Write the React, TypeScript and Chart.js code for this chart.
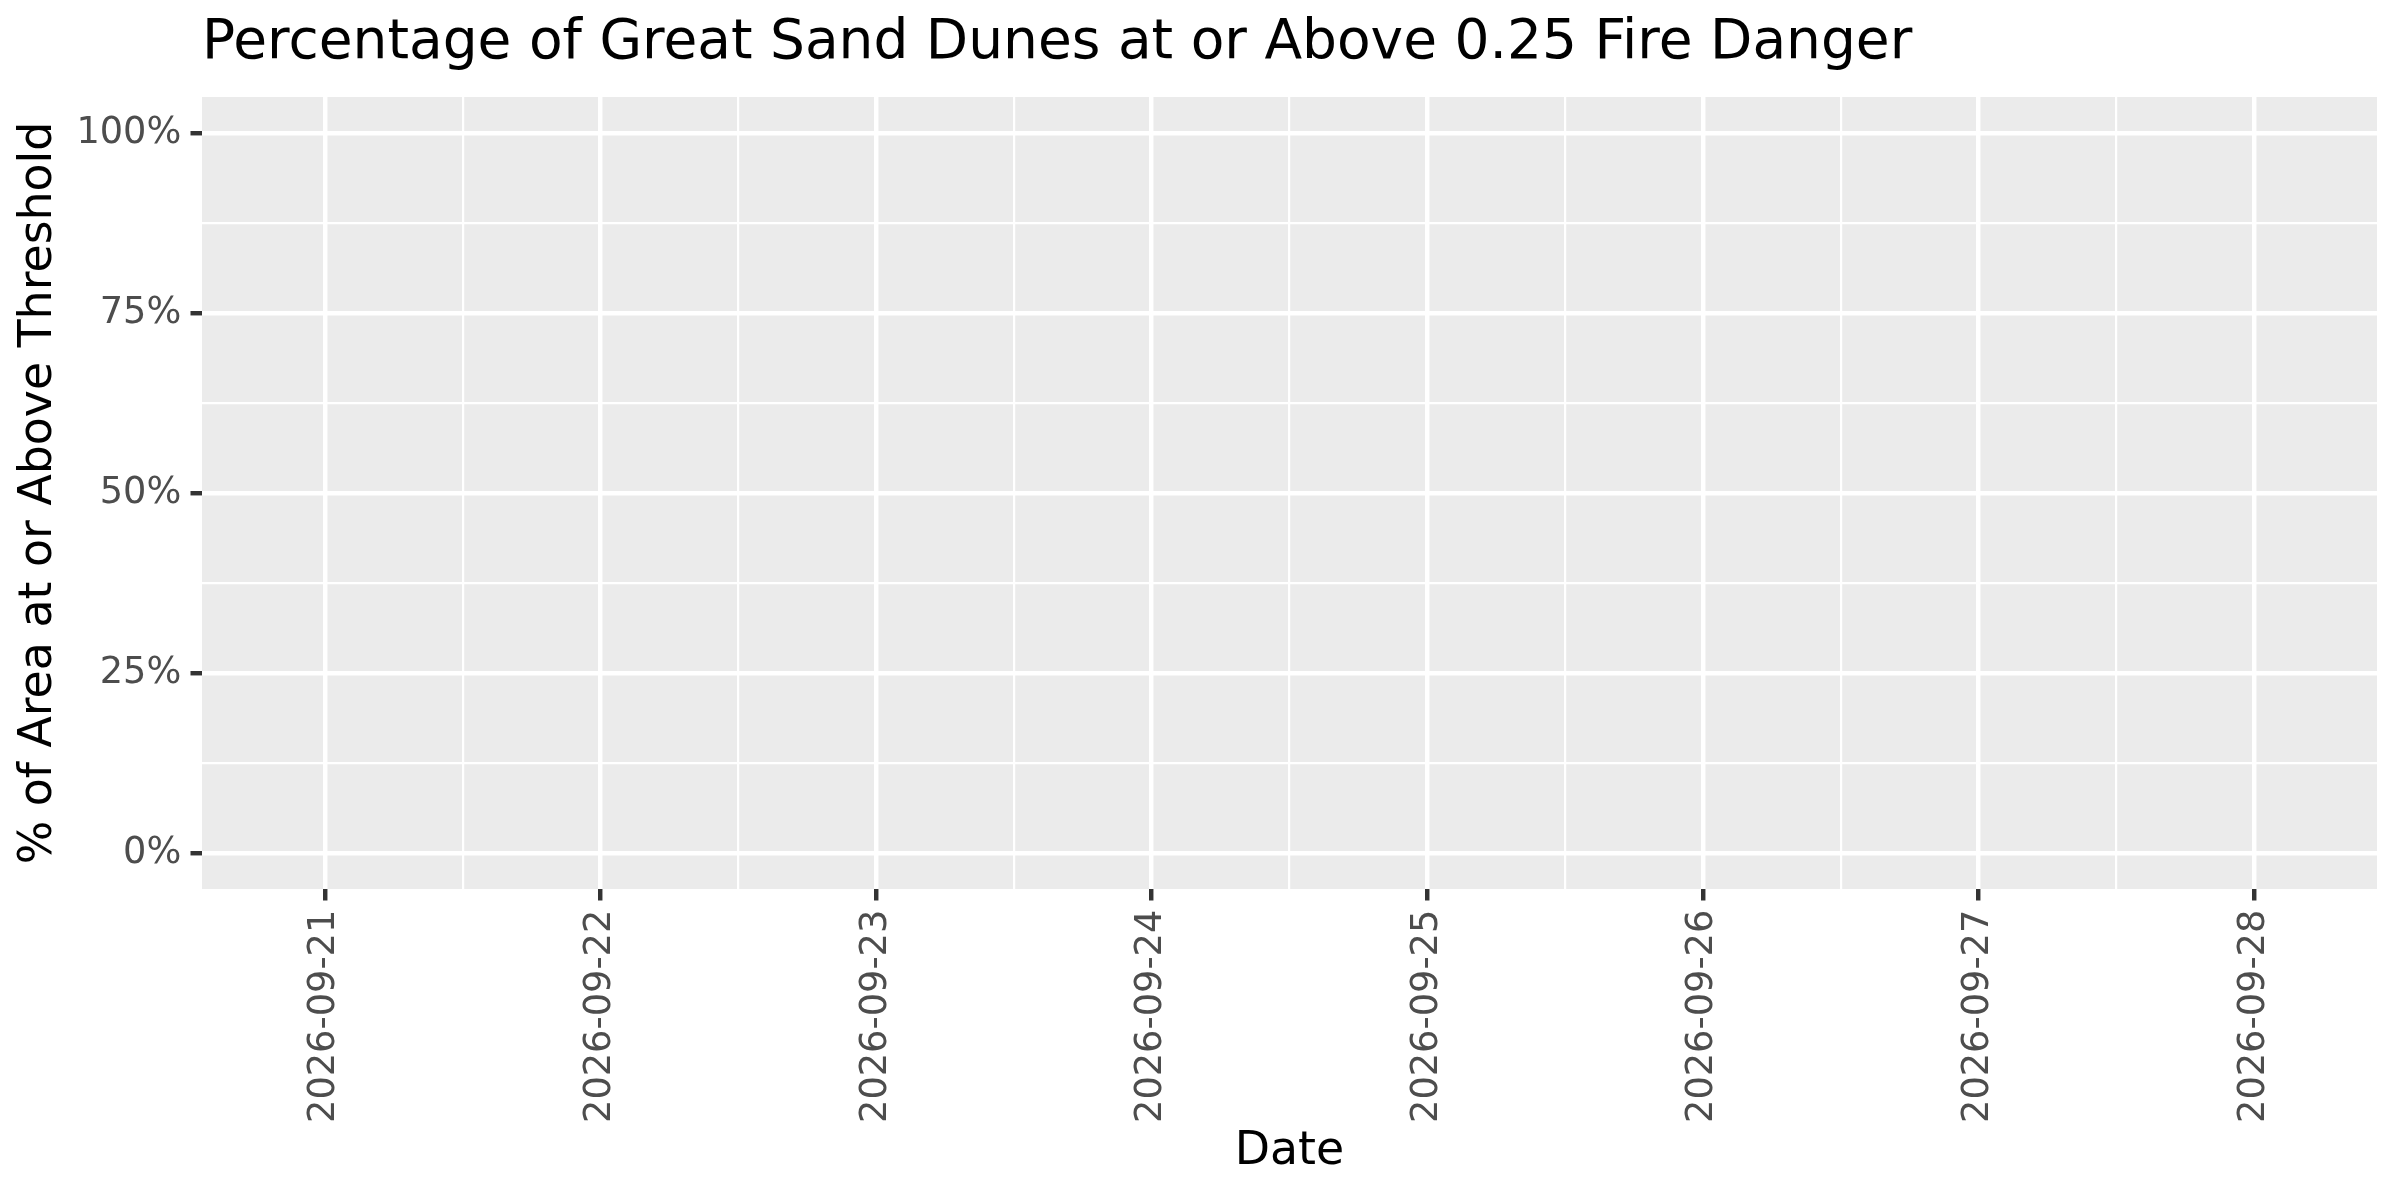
import React, { useEffect, useRef } from 'react';
import { Chart, registerables } from 'chart.js';

Chart.register(...registerables);

const CHART_TITLE = 'Percentage of Great Sand Dunes at or Above 0.25 Fire Danger';
const X_TITLE = 'Date';
const Y_TITLE = '% of Area at or Above Threshold';

const dates = ['2026-09-21', '2026-09-22', '2026-09-23', '2026-09-24', '2026-09-25', '2026-09-26', '2026-09-27', '2026-09-28'];
// the panel is empty in the source: no day has a value
const percentAbove: (number | null)[] = [null, null, null, null, null, null, null, null];

const yBreaks = [0, 25, 50, 75, 100];
const yMinorBreaks = [12.5, 37.5, 62.5, 87.5];
const xMinorBreaks = [0.5, 1.5, 2.5, 3.5, 4.5, 5.5, 6.5];

const FONT = "'DejaVu Sans', sans-serif";
const MAJOR_W = 4.45;
const MINOR_W = 2.22;
const TICK_LEN = 11.5;

const panelBackground = {
  id: 'panelBackground',
  beforeDraw(chart) {
    const { ctx, chartArea } = chart;
    ctx.save();
    ctx.fillStyle = '#EBEBEB';
    ctx.fillRect(chartArea.left, chartArea.top, chartArea.right - chartArea.left, chartArea.bottom - chartArea.top);
    ctx.restore();
  }
};

const isMajorX = v => Number.isInteger(v);
const isMajorY = v => yBreaks.includes(v);

export default function App() {
  const canvasRef = useRef(null);

  useEffect(() => {
    Chart.defaults.font.family = FONT;
    const chart = new Chart(canvasRef.current, {
      type: 'line',
      data: {
        datasets: [{
          label: 'pct',
          data: dates.map((d, i) => ({ x: i, y: percentAbove[i] })),
          borderColor: '#000000',
          borderWidth: 2,
          pointRadius: 0,
          spanGaps: false
        }]
      },
      plugins: [panelBackground],
      options: {
        animation: false,
        responsive: false,
        devicePixelRatio: 1,
        layout: { padding: { left: 0, right: 23, top: 0, bottom: 0 } },
        plugins: {
          legend: { display: false },
          tooltip: { enabled: false },
          title: {
            display: true,
            text: CHART_TITLE,
            align: 'start',
            fullSize: false,
            color: '#000000',
            font: { size: 55, weight: 'normal', family: FONT },
            padding: { top: 11, bottom: 20 }
          }
        },
        scales: {
          x: {
            type: 'linear',
            min: -0.446,
            max: 7.446,
            afterBuildTicks: scale => {
              scale.ticks = [...dates.map((d, i) => i), ...xMinorBreaks]
                .sort((a, b) => a - b)
                .map(v => ({ value: v }));
            },
            afterFit: scale => { scale.height = 311; },
            border: { display: false },
            grid: {
              color: '#FFFFFF',
              lineWidth: ctx => (isMajorX(ctx.tick.value) ? MAJOR_W : MINOR_W),
              tickColor: ctx => (isMajorX(ctx.tick.value) ? '#333333' : 'rgba(0,0,0,0)'),
              tickWidth: MAJOR_W,
              tickLength: TICK_LEN
            },
            ticks: {
              autoSkip: false,
              minRotation: 90,
              maxRotation: 90,
              padding: 9.2,
              color: '#4D4D4D',
              font: { size: 36.7 },
              callback: v => (isMajorX(v) ? dates[v] : '')
            },
            title: {
              display: true,
              text: X_TITLE,
              color: '#000000',
              font: { size: 45.8 },
              padding: { top: 0, bottom: 20.3 }
            }
          },
          y: {
            type: 'linear',
            min: -5,
            max: 105,
            afterBuildTicks: scale => {
              scale.ticks = [...yBreaks, ...yMinorBreaks]
                .sort((a, b) => a - b)
                .map(v => ({ value: v }));
            },
            afterFit: scale => { scale.width = 202; },
            border: { display: false },
            grid: {
              color: '#FFFFFF',
              lineWidth: ctx => (isMajorY(ctx.tick.value) ? MAJOR_W : MINOR_W),
              tickColor: ctx => (isMajorY(ctx.tick.value) ? '#333333' : 'rgba(0,0,0,0)'),
              tickWidth: MAJOR_W,
              tickLength: TICK_LEN
            },
            ticks: {
              autoSkip: false,
              padding: 9.2,
              color: '#4D4D4D',
              font: { size: 36.7 },
              callback: v => (isMajorY(v) ? v + '%' : '')
            },
            title: {
              display: true,
              text: Y_TITLE,
              color: '#000000',
              font: { size: 45.8 },
              padding: { top: 11.7, bottom: 0 }
            }
          }
        }
      }
    });
    return () => chart.destroy();
  }, []);

  return (
    <div style={{ position: 'absolute', left: 0, top: 0, width: 2400, height: 1200, background: '#FFFFFF' }}>
      <canvas ref={canvasRef} width={2400} height={1200} style={{ width: 2400, height: 1200, display: 'block' }} />
    </div>
  );
}
